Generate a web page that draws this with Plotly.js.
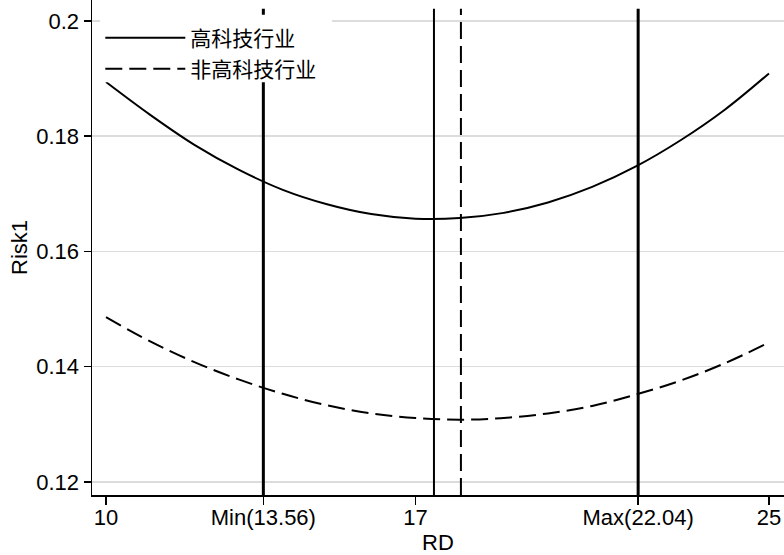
<!DOCTYPE html>
<html>
<head>
<meta charset="utf-8">
<script src="https://cdn.plot.ly/plotly-3.0.1.min.js"></script>
<style>html,body{margin:0;padding:0;background:#fff;}#chart{width:784px;height:555px;}</style>
</head>
<body>
<div id="chart"></div>
<script>
// Data
const rdValues = [10, 11, 12, 13, 14, 15, 16, 17, 18, 19, 20, 21, 22, 23, 24, 25];
const riskHighTech = [0.1894, 0.1837, 0.1785, 0.1742, 0.1707, 0.1682, 0.1665, 0.1657, 0.1658, 0.1667, 0.1685, 0.1712, 0.1748, 0.1793, 0.1846, 0.1909];
const riskNonHighTech = [0.1486, 0.1444, 0.1408, 0.1378, 0.1353, 0.1333, 0.1319, 0.1311, 0.1308, 0.1311, 0.1319, 0.1332, 0.1352, 0.1376, 0.1406, 0.1442];
const seriesNames = ["高科技行业", "非高科技行业"];
const boundMin = 13.56;
const boundMax = 22.04;
const turnHighTech = 17.42;
const turnNonHighTech = 18.03;
const xTickVals = [10, 13.56, 17, 22.04, 25];
const xTickText = ["10", "Min(13.56)", "17", "Max(22.04)", "25"];
const yTickVals = [0.12, 0.14, 0.16, 0.18, 0.2];
const yTickText = ["0.12", "0.14", "0.16", "0.18", "0.2"];
const vLineSpan = [0.11774, 0.2021];

function vline(x, width, dash) {
  return {x: [x, x], y: vLineSpan, mode: 'lines', showlegend: false, hoverinfo: 'skip',
          line: {color: '#000', width: width, dash: dash}};
}

const traces = [
  vline(boundMin, 3, 'solid'),
  vline(boundMax, 3, 'solid'),
  vline(turnHighTech, 2, 'solid'),
  vline(turnNonHighTech, 2, '17px,7px'),
  {x: rdValues, y: riskHighTech, mode: 'lines', name: seriesNames[0], legend: 'legend',
   line: {color: '#000', width: 2, shape: 'spline'}},
  {x: rdValues, y: riskNonHighTech, mode: 'lines', name: seriesNames[1], legend: 'legend2',
   line: {color: '#000', width: 2, dash: '17px,7px', shape: 'spline'}}
];

const legendFont = {family: 'Noto Sans CJK SC, sans-serif', size: 21, color: '#000'};

const layout = {
  width: 784, height: 555,
  margin: {l: 92, r: 0, t: 0, b: 60},
  paper_bgcolor: '#fff', plot_bgcolor: '#fff',
  font: {family: 'Liberation Sans, Arial, sans-serif', size: 22, color: '#000'},
  showlegend: true,
  legend: {x: 0.012, y: 0.9644, xanchor: 'left', yanchor: 'top', bgcolor: 'rgba(0,0,0,0)',
           font: legendFont, tracegroupgap: 0, itemwidth: 80},
  legend2: {x: 0.012, y: 0.9018, xanchor: 'left', yanchor: 'top', bgcolor: 'rgba(0,0,0,0)',
           font: legendFont, tracegroupgap: 0, itemwidth: 80},
  shapes: [{type: 'rect', xref: 'paper', yref: 'paper', layer: 'above',
            x0: 0.0116, x1: 0.347, y0: 0.834, y1: 0.970,
            fillcolor: '#fff', line: {width: 0}}],
  xaxis: {range: [9.683, 25.34], tickvals: xTickVals, ticktext: xTickText,
          showgrid: false, zeroline: false, showline: true, linecolor: '#000', linewidth: 1.5,
          ticks: 'outside', ticklen: 8, tickwidth: 1.5, tickcolor: '#000',
          ticklabelstandoff: -6, tickfont: {size: 22},
          title: {text: 'RD', standoff: 6, font: {size: 22}}},
  yaxis: {range: [0.11774, 0.20364], tickvals: yTickVals, ticktext: yTickText,
          showgrid: true, gridcolor: '#dcdcdc', gridwidth: 1.5, zeroline: false,
          showline: true, linecolor: '#000', linewidth: 1.5,
          ticks: 'outside', ticklen: 7, tickwidth: 1.5, tickcolor: '#000',
          tickfont: {size: 22},
          title: {text: 'Risk1', standoff: 2, font: {size: 22}}}
};

Plotly.newPlot('chart', traces, layout, {displayModeBar: false, staticPlot: true});
</script>
</body>
</html>
